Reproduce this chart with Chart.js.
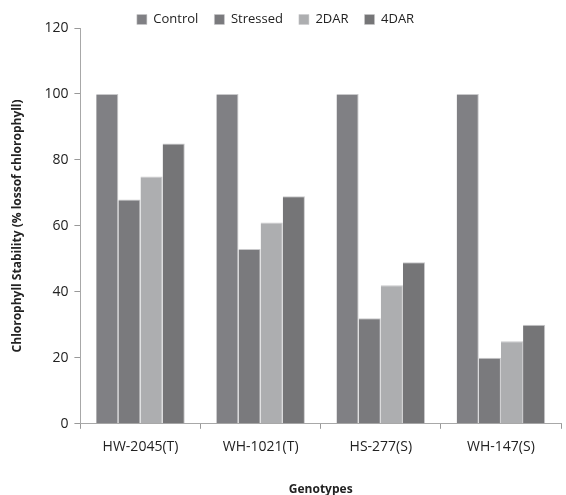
<!DOCTYPE html>
<html><head><meta charset="utf-8">
<script src="https://cdn.jsdelivr.net/npm/chart.js@4"></script>
<style>html,body{margin:0;padding:0;background:#fff}#wrap{width:566px;height:495px}</style>
</head><body><div id="wrap"><canvas id="c" width="566" height="495"></canvas></div>
<script>
const categories = ["HW-2045(T)", "WH-1021(T)", "HS-277(S)", "WH-147(S)"];
const seriesNames = ["Control", "Stressed", "2DAR", "4DAR"];
const control = [100, 100, 100, 100];
const stressed = [68, 53, 32, 20];
const dar2 = [75, 61, 42, 25];
const dar4 = [85, 69, 49, 30];
const colors = ["#808084", "#7a7a7d", "#adaeb0", "#757577"];
const fontFam = "'Open Sans', 'Noto Sans', sans-serif";
const data = {
  labels: categories,
  datasets: [control, stressed, dar2, dar4].map((v, i) => ({
    label: seriesNames[i], data: v, backgroundColor: colors[i],
    borderColor: "#c9c9cb", borderWidth: {top:1, left:0, right:1, bottom:0},
    barPercentage: 1.0, categoryPercentage: 0.737
  }))
};
const legendShrink = {
  id: 'legendShrink',
  beforeInit(chart) {
    const lg = chart.legend;
    const orig = lg.fit;
    lg.fit = function() { orig.call(this); this.height -= 13; };
    if (typeof lg._draw === 'function') {
      lg.draw = function() { if (this.options.display) this._draw(); };
    }
  },
  afterLayout(chart) {
    const lg = chart.legend;
    lg.top -= 5; lg.bottom -= 5;
    lg.left -= 10; lg.right -= 10;
  }
};
new Chart(document.getElementById('c'), {
  type: 'bar', data,
  plugins: [legendShrink],
  options: {
    responsive: false, animation: false,
    layout: { padding: { left: 10, right: 5, top: 2, bottom: 0 } },
    plugins: {
      legend: { position: 'top', labels: { boxWidth: 10, boxHeight: 10, color: '#222', font: { family: fontFam, size: 13 }, padding: 16 } },
      tooltip: { enabled: false }
    },
    scales: {
      x: {
        grid: { display: true, offset: true, drawOnChartArea: false, drawTicks: true, tickLength: 5, color: '#999' },
        border: { color: '#a8a8a8' },
        ticks: { color: '#222', font: { family: fontFam, size: 14 }, padding: 10 },
        title: { display: true, text: 'Genotypes', color: '#222', font: { family: fontFam, size: 12, weight: 'bold' }, padding: { top: 17, bottom: -2 } }
      },
      y: {
        min: 0, max: 120,
        ticks: { stepSize: 20, color: '#222', font: { family: fontFam, size: 14 }, padding: 6 },
        grid: { display: true, drawOnChartArea: false, drawTicks: true, tickLength: 6, color: '#999' },
        border: { color: '#a8a8a8' },
        title: { display: true, text: 'Chlorophyll Stability (% lossof chlorophyll)', color: '#222', font: { family: fontFam, size: 12, weight: 'bold' }, padding: { top: 0, bottom: 14 } }
      }
    }
  }
});
</script></body></html>
